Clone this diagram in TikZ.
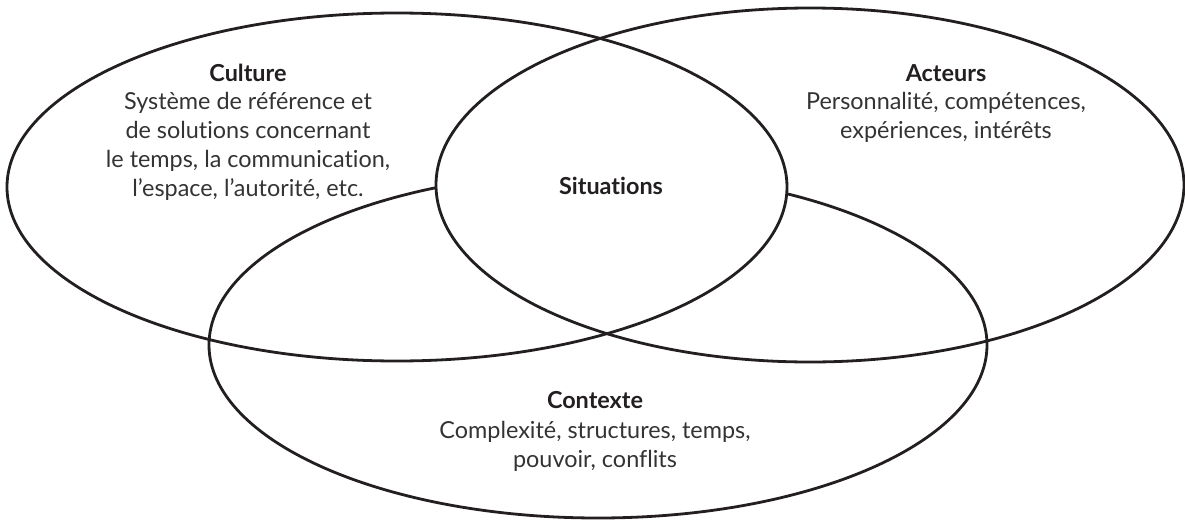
\documentclass[tikz,border=0pt]{standalone}
\usepackage{fontspec}
\setmainfont{Lato}[Ligatures=NoCommon]
\definecolor{ink}{HTML}{231F20}
\definecolor{body}{HTML}{333333}
\begin{document}
\begin{tikzpicture}[x=0.5pt,y=-0.5pt,
  ring/.style={draw=ink,line width=1.4pt},
  label/.style={align=center,text=body,font=\fontsize{11.7}{14.4}\selectfont,inner sep=0pt},
  head/.style={font=\fontsize{11.7}{14.4}\selectfont\bfseries,text=ink,inner sep=0pt}]
\useasboundingbox (0,0) rectangle (1185,520);
% Contexte (bottom)
\draw[ring] (598,345) ellipse [x radius=194.5pt, y radius=86.5pt];
% blank the lens shared by Culture and Acteurs
\begin{scope}
  \clip (397,187) ellipse [x radius=195pt, y radius=87pt];
  \fill[white] (810,185) ellipse [x radius=187pt, y radius=88.5pt];
\end{scope}
% Culture (left) and Acteurs (right)
\draw[ring] (397,187) ellipse [x radius=195pt, y radius=87pt];
\draw[ring] (810,185) ellipse [x radius=187pt, y radius=88.5pt];
% texts
\node[head] (cult) at (248,73) {Culture};
\node[label,anchor=north] (cultx) at (248,92) {Système de référence et\\de solutions concernant\\le temps, la communication,\\l’espace, l’autorité, etc.};
\node[head] (act) at (946,73) {Acteurs};
\node[label,anchor=north] (actx) at (946,92) {Personnalité, compétences,\\expériences, intérêts};
\node[head] (sit) at (611,186) {Situations};
\node[head] (ctx) at (595,400) {Contexte};
\node[label,anchor=north] (ctxx) at (595,421) {Complexité, structures, temps,\\pouvoir, conflits};
\end{tikzpicture}
\end{document}
